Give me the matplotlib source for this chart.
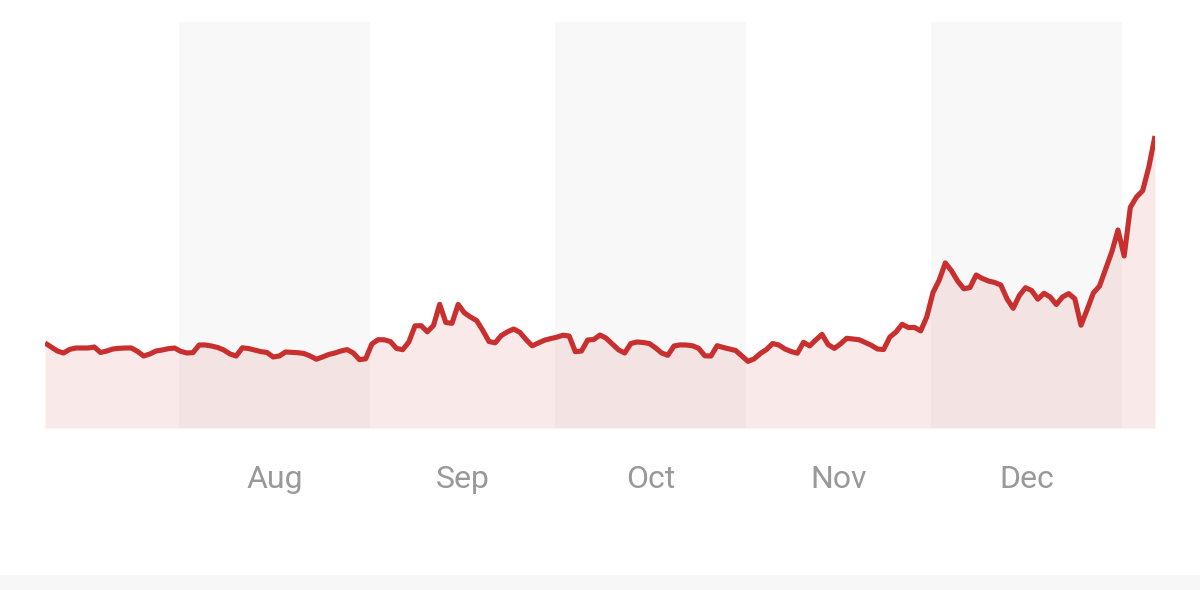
import datetime as dt
import matplotlib
matplotlib.use("Agg")
import matplotlib.pyplot as plt
from matplotlib.patches import Rectangle

# ---- data (daily values, Jul 10 -> Jan 6) ----
start_date = dt.datetime(2023, 7, 10, 7)
values = [
    85, 81, 77, 75, 78.6, 80, 80, 80, 81, 75.5,
    77, 79, 79.7, 80, 80, 76.6, 72, 74, 77, 78,
    79.3, 80, 76.7, 75, 75.4, 83, 83, 82, 80.5, 78,
    74, 72, 80.2, 79.5, 78, 76.4, 75.5, 71, 72, 76,
    75.7, 75.3, 74.5, 72, 68.8, 71, 73.5, 75, 77, 78.4,
    75, 68.3, 69.2, 84, 88.3, 88.2, 86.5, 79.6, 78.3, 86,
    102.2, 102.3, 96.2, 102.5, 123.7, 105.5, 104.7, 123.6, 115.2, 111,
    107.4, 97.5, 86.5, 85.2, 92.5, 96.2, 99, 95.7, 88.5, 82.2,
    85, 87.8, 89.4, 90.8, 92.8, 92, 76.3, 77, 88, 88.5,
    93, 89.8, 84, 78.2, 75, 84.5, 86, 85.5, 84.5, 80.2,
    75, 72.7, 82, 83.1, 83, 82.2, 79.7, 72.2, 72, 82.3,
    80.5, 79, 77.5, 72, 66.6, 69.2, 74.5, 78.5, 84.5, 83,
    79, 76.5, 74.8, 85.7, 82.1, 88.1, 93.6, 83.4, 79.6, 84.1,
    89.7, 89, 88.3, 85.6, 82.7, 79, 78.5, 91, 96, 103.7,
    100.5, 100.6, 97.1, 111.3, 135.5, 147.8, 165.1, 157.2, 147, 139.2,
    140.5, 153, 149.5, 147, 145.5, 143, 129.2, 119.7, 132.5, 140.3,
    137.5, 128.8, 134.7, 131, 123.5, 131, 134.4, 129.2, 102.8, 118.5,
    135, 141.9, 159, 176.2, 198, 172, 220.7, 231, 237.3, 261,
    292,
]
dates = [start_date + dt.timedelta(days=i) for i in range(len(values))]

month_labels = ["Aug", "Sep", "Oct", "Nov", "Dec"]
month_starts = [dt.datetime(2023, 8, 1), dt.datetime(2023, 9, 1), dt.datetime(2023, 10, 1),
                dt.datetime(2023, 11, 1), dt.datetime(2023, 12, 1)]
month_ends = [dt.datetime(2023, 9, 1), dt.datetime(2023, 10, 1), dt.datetime(2023, 11, 1),
              dt.datetime(2023, 12, 1), dt.datetime(2024, 1, 1)]
shaded_months = ["Aug", "Oct", "Dec"]

# ---- style ----
line_color = "#c8302f"
band_color = "#f8f8f8"
label_color = "#999999"

W, H = 1200, 590
fig = plt.figure(figsize=(W / 100, H / 100), dpi=100)
fig.patch.set_facecolor("white")

# bottom grey strip
fig.patches.append(Rectangle((0, 0), 1, 15 / H, transform=fig.transFigure,
                             facecolor="#f7f7f7", edgecolor="none", zorder=0))

left, right, top, bottom = 45, 1155, 22, 428
ax = fig.add_axes([left / W, (H - bottom) / H, (right - left) / W, (bottom - top) / H])
ax.set_facecolor("none")

for lab, s, e in zip(month_labels, month_starts, month_ends):
    if lab in shaded_months:
        ax.axvspan(s, e, color=band_color, zorder=0, lw=0)

ax.fill_between(dates, 0, values, color=line_color, alpha=0.1, lw=0, zorder=1)
ax.plot(dates, values, color=line_color, lw=3.7, solid_joinstyle="round",
        solid_capstyle="butt", zorder=2)

ax.set_xlim(dates[0], dates[-1])
ax.set_ylim(0, 406)

mids = [s + (e - s) / 2 for s, e in zip(month_starts, month_ends)]
ax.set_xticks(mids)
ax.set_xticklabels(month_labels, fontsize=23, color=label_color, family="Roboto")
ax.tick_params(axis="x", length=0, pad=27)
ax.set_yticks([])
for sp in ax.spines.values():
    sp.set_visible(False)

fig.savefig("out.png", dpi=100, facecolor="white")
